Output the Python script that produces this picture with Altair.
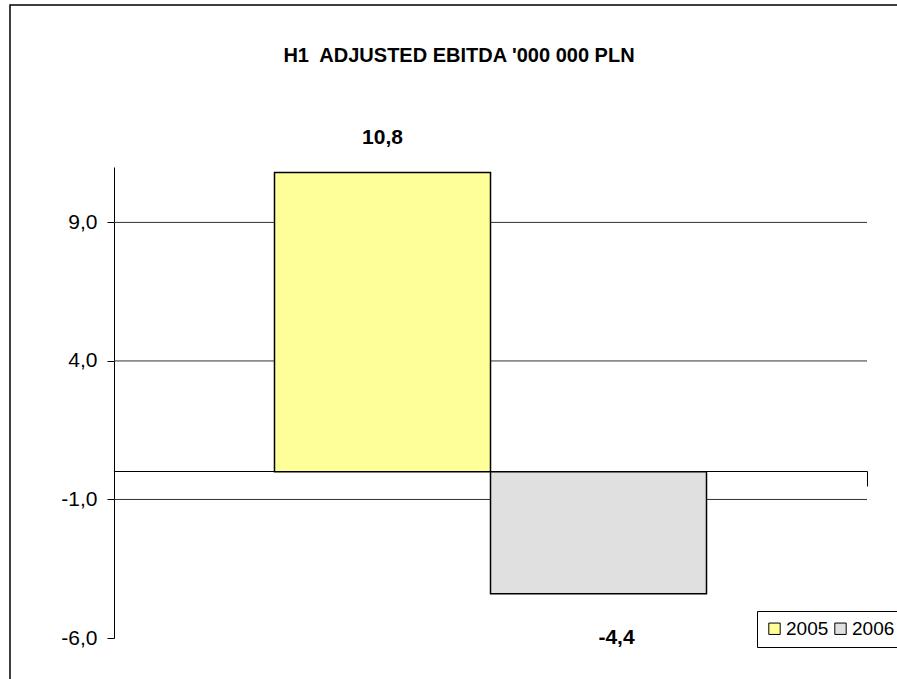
import altair as alt
import pandas as pd

# Half-year adjusted EBITDA, million PLN
period = ["H1", "H1"]
years = ["2005", "2006"]
values = [10.8, -4.4]
bar_colors = ["#FFFF99", "#E0E0E0"]

y_ticks = [-6, -1, 4, 9]
grid_lines = [-1, 4, 9]

TITLE = "H1\u00a0 ADJUSTED EBITDA '000 000 PLN"
FONT = "Liberation Sans, Arial, sans-serif"
W, H = 753, 471

bars_df = pd.DataFrame({"period": period, "year": years, "value": values})
grid_df = pd.DataFrame({"value": grid_lines})
one_row = pd.DataFrame({"k": [0]})

# decimal comma and a plain hyphen for negatives
comma = ("replace(replace(format(datum.value, '.1f'), '.', ','), "
         "'\u2212', '-')")

# outer chart frame
frame = alt.Chart(one_row).mark_rect(
    fill=None, stroke="black", strokeWidth=1.5
).encode(
    x=alt.value(-104), x2=alt.value(W + 60),
    y=alt.value(-162), y2=alt.value(H + 80),
)

title = alt.Chart(one_row).mark_text(
    text=TITLE, font=FONT, fontSize=20, fontWeight="bold", color="black",
    align="center", baseline="alphabetic",
).encode(x=alt.value(345), y=alt.value(-105))

grid = alt.Chart(grid_df).mark_rule(color="#333333", strokeWidth=1).encode(
    y=alt.Y("value:Q")
)

base = alt.Chart(bars_df)

x_enc = alt.X(
    "period:N",
    scale=alt.Scale(paddingInner=0, paddingOuter=0),
    axis=alt.Axis(
        title=None, labels=False, domain=True, domainColor="black",
        domainWidth=1, ticks=True, tickColor="black", tickSize=15,
        bandPosition=1, offset=-167,
    ),
)
xo_enc = alt.XOffset(
    "year:N", scale=alt.Scale(paddingInner=0, paddingOuter=0.743)
)
y_enc = alt.Y(
    "value:Q",
    scale=alt.Scale(domain=[-6, 11], nice=False, zero=False),
    axis=alt.Axis(
        title=None, values=y_ticks, grid=False, labelExpr=comma,
        labelFont=FONT, labelFontSize=21, labelColor="black",
        domainColor="black", tickColor="black", tickSize=7,
        labelPadding=10,
    ),
)

bars = base.mark_bar(stroke="black", strokeWidth=1.5).encode(
    x=x_enc,
    xOffset=xo_enc,
    y=y_enc,
    color=alt.Color(
        "year:N",
        scale=alt.Scale(domain=years, range=bar_colors),
        legend=alt.Legend(
            title=None, orient="none", legendX=643, legendY=444,
            direction="horizontal", strokeColor="black", padding=8,
            labelFont=FONT, labelFontSize=19, labelColor="black",
            symbolType="square", symbolSize=130, symbolStrokeColor="black",
            symbolStrokeWidth=1, columnPadding=2, labelOffset=2,
        ),
    ),
)

label_pos = base.transform_filter("datum.value >= 0").mark_text(
    font=FONT, fontSize=21, fontWeight="bold", baseline="bottom", dy=-25,
    color="black",
).encode(
    x="period:N", xOffset="year:N", y="value:Q",
    text=alt.Text("label:N"),
).transform_calculate(label=comma)

label_neg = base.transform_filter("datum.value < 0").mark_text(
    font=FONT, fontSize=21, fontWeight="bold", baseline="top", dy=33, dx=18,
    color="black",
).encode(
    x="period:N", xOffset="year:N", y="value:Q",
    text=alt.Text("label:N"),
).transform_calculate(label=comma)

chart = alt.layer(frame, title, grid, bars, label_pos, label_neg).properties(
    width=W, height=H,
    autosize=alt.AutoSizeParams(type="none"),
    padding={"left": 114, "top": 167, "right": 30, "bottom": 41},
).configure(
    background="white",
    view=alt.ViewConfig(stroke=None),
)

chart.save("out.html", embed_options={"renderer": "svg", "actions": False})
